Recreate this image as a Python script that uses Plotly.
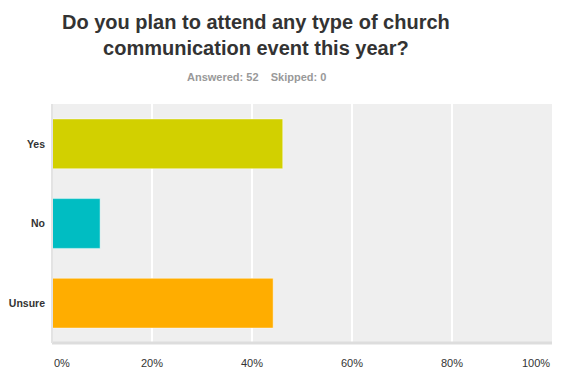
import plotly.graph_objects as go

categories = ["Yes", "No", "Unsure"]
values = [46.15, 9.62, 44.23]
colors = ["#d2d000", "#00bdc2", "#ffad00"]
tick_vals = [0, 20, 40, 60, 80, 100]
tick_labels = ["0%", "20%", "40%", "60%", "80%", "100%"]
title_lines = ["Do you plan to attend any type of church", "communication event this year?"]
subtitle = "Answered: 52&nbsp;&nbsp;&nbsp;&nbsp;Skipped: 0"

# page body has an 8px default margin, so the figure is offset by 8px
OFF = 8
W, H = 568, 389
ml, mr, mt, mb = 52 - OFF, 16 + OFF, 104 - OFF, 46 + OFF

fig = go.Figure()
fig.add_trace(go.Bar(
    y=categories, x=values, orientation="h",
    marker=dict(color=colors, line=dict(color="rgba(255,255,255,0.45)", width=1)),
    width=0.625, hoverinfo="skip",
))

font_main = "Helvetica, Arial, 'Liberation Sans', sans-serif"

fig.update_layout(
    width=W, height=H,
    margin=dict(l=ml, r=mr, t=mt, b=mb, pad=0, autoexpand=False),
    paper_bgcolor="white", plot_bgcolor="#efefef",
    showlegend=False,
    font=dict(family=font_main, color="#333333"),
    xaxis=dict(range=[0, 100], tickvals=tick_vals, showticklabels=False,
               showgrid=True, gridcolor="#ffffff", gridwidth=2, zeroline=False,
               showline=False, fixedrange=True, automargin=False),
    yaxis=dict(categoryorder="array", categoryarray=categories[::-1],
               tickfont=dict(size=10.5, color="#333333", family=font_main, weight="bold"),
               ticks="", ticklabelstandoff=6, showgrid=False, zeroline=False,
               showline=False, fixedrange=True, automargin=False),
)

# bottom and left axis lines
fig.add_shape(type="line", xref="paper", yref="paper", x0=0, x1=1, y0=0, y1=0,
              line=dict(color="#dddddd", width=3), layer="above")
fig.add_shape(type="line", xref="paper", yref="paper", x0=0, x1=0, y0=0, y1=1,
              line=dict(color="#e3e3e3", width=2), layer="above")

# x tick labels
for i, (v, t) in enumerate(zip(tick_vals, tick_labels)):
    anchor = "left" if i == 0 else ("right" if i == len(tick_vals) - 1 else "center")
    fig.add_annotation(x=v, y=0, xref="x", yref="paper", text=t, showarrow=False,
                       xanchor=anchor, yanchor="top", yshift=-12,
                       font=dict(size=11, color="#333333", family=font_main))

pw = W - ml - mr
ph = H - mt - mb
def px_x(x):
    return (x - OFF - ml) / pw
def px_y(y):
    return (H - mb - (y - OFF)) / ph

fig.add_annotation(x=px_x(256), y=px_y(35), xref="paper", yref="paper",
                   text="<br>".join(title_lines), showarrow=False,
                   xanchor="center", yanchor="middle", align="center",
                   font=dict(size=20, color="#333333", family=font_main, weight="bold"))
fig.add_annotation(x=px_x(256), y=px_y(77), xref="paper", yref="paper",
                   text=subtitle, showarrow=False, xanchor="center", yanchor="middle",
                   font=dict(size=11, color="#999999", family=font_main, weight="bold"))

fig.write_html("out.html")
